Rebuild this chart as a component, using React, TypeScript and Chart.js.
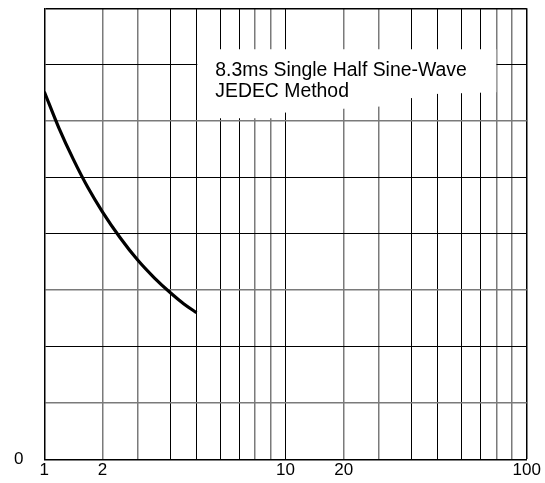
import React, { useEffect, useRef } from 'react';
import { Chart, registerables, LogarithmicScale } from 'chart.js';

// ---- data ----
const X_GRID_VALUES = [1, 2, 3, 4, 5, 6, 7, 8, 9, 10, 20, 30, 40, 50, 60, 70, 80, 90, 100];
const X_LABELED = [1, 2, 10, 20, 100];
// positions of the printed grid lines inside one decade (as drawn on the original paper)
const DECADE_POSITIONS = [0, 0.241, 0.388, 0.524, 0.631, 0.73, 0.809, 0.874, 0.937, 1];
const Y_TICKS = [0, 1, 2, 3, 4, 5, 6, 7, 8];
const Y_LABELED = [0];
const CURVE_X = [1, 1.25, 1.5, 1.75, 2, 2.5, 3, 3.5, 4, 4.5, 5];
const CURVE_Y = [6.52, 5.88, 5.32, 4.82, 4.39, 3.93, 3.53, 3.22, 2.95, 2.76, 2.6];
const NOTE_LINES = ['8.3ms Single Half Sine-Wave', 'JEDEC Method'];
const X_GREY_MANTISSA = [2, 3, 8, 9];
const Y_GREY_VALUES = [1, 3, 6];

const FONT = '"Liberation Sans", Arial, Helvetica, sans-serif';

function warpLog(v: number): number {
  const e = Math.floor(Math.log10(v) + 1e-9);
  const m = v / Math.pow(10, e);
  const i = Math.max(0, Math.min(8, Math.floor(m + 1e-9) - 1));
  return e + DECADE_POSITIONS[i] + (m - (i + 1)) * (DECADE_POSITIONS[i + 1] - DECADE_POSITIONS[i]);
}

function unwarpLog(w: number): number {
  const e = Math.floor(w);
  const f = w - e;
  let i = 0;
  while (i < 8 && f >= DECADE_POSITIONS[i + 1]) i++;
  const m = i + 1 + (f - DECADE_POSITIONS[i]) / (DECADE_POSITIONS[i + 1] - DECADE_POSITIONS[i]);
  return m * Math.pow(10, e);
}

class PrintedLogScale extends LogarithmicScale {
  static id = 'printedLog';
  static defaults = {};
  getPixelForValue(value: any) {
    if (value === undefined || value === 0) value = (this as any).min;
    if (value === null || isNaN(value)) return NaN;
    const lo = warpLog((this as any).min);
    const hi = warpLog((this as any).max);
    return this.getPixelForDecimal((warpLog(value) - lo) / (hi - lo));
  }
  getValueForPixel(pixel: number) {
    const lo = warpLog((this as any).min);
    const hi = warpLog((this as any).max);
    return unwarpLog(lo + this.getDecimalForPixel(pixel) * (hi - lo));
  }
}

Chart.register(...registerables, PrintedLogScale);

const noteBox = {
  id: 'noteBox',
  beforeDatasetsDraw(chart: any) {
    const ctx = chart.ctx;
    const a = chart.chartArea;
    const ox = a.left;
    const oy = a.top;
    ctx.save();
    ctx.fillStyle = '#ffffff';
    ctx.beginPath();
    ctx.moveTo(ox + 153, oy + 41);
    ctx.lineTo(ox + 452, oy + 41);
    ctx.lineTo(ox + 452, oy + 84);
    ctx.lineTo(ox + 380, oy + 86);
    ctx.lineTo(ox + 340, oy + 98);
    ctx.lineTo(ox + 242, oy + 104);
    ctx.lineTo(ox + 228, oy + 110);
    ctx.lineTo(ox + 153, oy + 110);
    ctx.closePath();
    ctx.fill();
    ctx.fillStyle = '#000';
    ctx.font = '19.4px ' + FONT;
    ctx.textBaseline = 'alphabetic';
    ctx.textAlign = 'left';
    ctx.fillText(NOTE_LINES[0], ox + 171, oy + 67.4);
    ctx.fillText(NOTE_LINES[1], ox + 171, oy + 89);
    ctx.restore();
  },
};

export default function App() {
  const ref = useRef<HTMLCanvasElement | null>(null);
  useEffect(() => {
    if (!ref.current) return;
    const chart = new Chart(ref.current, {
      type: 'line',
      data: {
        datasets: [
          {
            data: CURVE_X.map((x, i) => ({ x, y: CURVE_Y[i] })),
            borderColor: '#000',
            borderWidth: 3.2,
            pointRadius: 0,
            cubicInterpolationMode: 'monotone',
            fill: false,
          },
        ],
      },
      options: {
        animation: false,
        responsive: true,
        maintainAspectRatio: false,
        layout: { padding: { top: 8.3, right: 18.3, left: 14, bottom: 0 } },
        plugins: { legend: { display: false }, tooltip: { enabled: false } },
        scales: {
          x: {
            type: 'printedLog' as any,
            min: 1,
            max: 100,
            afterBuildTicks: (scale: any) => {
              scale.ticks = X_GRID_VALUES.map((v) => ({ value: v }));
            },
            afterFit: (scale: any) => {
              scale.height = 23.7;
            },
            ticks: {
              autoSkip: false,
              maxRotation: 0,
              minRotation: 0,
              padding: 1,
              color: '#000',
              font: { family: FONT, size: 17 },
              callback: (v: any) => (X_LABELED.includes(Number(v)) ? String(v) : ''),
            },
            grid: {
              drawTicks: false,
              color: (c: any) => {
                const v = c.tick ? c.tick.value : 1;
                const m = Math.round(v / Math.pow(10, Math.floor(Math.log10(v) + 1e-9)));
                return X_GREY_MANTISSA.includes(m) ? '#7a7a7a' : '#000';
              },
              lineWidth: (c: any) => {
                const v = c.tick ? c.tick.value : 1;
                const m = Math.round(v / Math.pow(10, Math.floor(Math.log10(v) + 1e-9)));
                if (v === 100) return 1.5;
                return X_GREY_MANTISSA.includes(m) ? 1.5 : 1;
              },
            },
            border: { color: '#000', width: 1.5 },
          } as any,
          y: {
            type: 'linear',
            min: 0,
            max: 8,
            afterBuildTicks: (scale: any) => {
              scale.ticks = Y_TICKS.map((v) => ({ value: v }));
            },
            afterFit: (scale: any) => {
              scale.width = 30.3;
            },
            ticks: {
              padding: 0,
              crossAlign: 'far',
              color: '#000',
              font: { family: FONT, size: 17, lineHeight: 0.9 },
              callback: (v: any) => (Y_LABELED.includes(Number(v)) ? String(v) : ''),
            },
            grid: {
              drawTicks: false,
              color: (c: any) => (c.tick && Y_GREY_VALUES.includes(c.tick.value) ? '#7a7a7a' : '#000'),
              lineWidth: (c: any) => {
                const v = c.tick ? c.tick.value : 0;
                if (v === 8) return 1.5;
                return Y_GREY_VALUES.includes(v) ? 1.5 : 1;
              },
            },
            border: { color: '#000', width: 1.5 },
          } as any,
        },
      },
      plugins: [noteBox],
    } as any);
    return () => chart.destroy();
  }, []);
  return (
    <div style={{ position: 'absolute', left: 0, top: 0, width: 545, height: 483, background: '#fff' }}>
      <canvas ref={ref} style={{ display: 'block' }} />
    </div>
  );
}
